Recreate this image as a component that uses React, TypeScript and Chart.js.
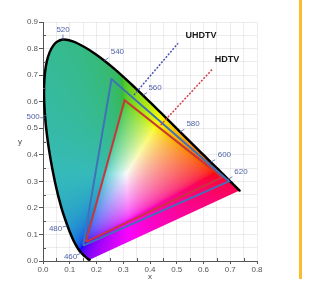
import React, { useEffect, useRef } from 'react';
import { Chart, registerables } from 'chart.js';
Chart.register(...registerables);

// CIE 1931 spectral locus (wavelength nm, x, y)
const wavelengths = [380, 400, 410, 420, 425, 430, 435, 440, 445, 450, 455, 460, 465, 470, 475, 480, 485, 490, 495, 500, 505, 510, 515, 520, 525, 530, 535, 540, 545, 550, 555, 560, 565, 570, 575, 580, 585, 590, 595, 600, 605, 610, 615, 620, 625, 630, 635, 640, 650, 660, 680, 700];
const locusX = [0.1741, 0.1733, 0.1726, 0.1714, 0.1703, 0.1689, 0.1669, 0.1644, 0.1611, 0.1566, 0.1510, 0.1440, 0.1355, 0.1241, 0.1096, 0.0913, 0.0687, 0.0454, 0.0235, 0.0082, 0.0039, 0.0139, 0.0389, 0.0743, 0.1142, 0.1547, 0.1929, 0.2296, 0.2658, 0.3016, 0.3373, 0.3731, 0.4087, 0.4441, 0.4788, 0.5125, 0.5448, 0.5752, 0.6029, 0.6270, 0.6482, 0.6658, 0.6801, 0.6915, 0.7006, 0.7079, 0.7140, 0.7190, 0.7260, 0.7300, 0.7334, 0.7347];
const locusY = [0.0050, 0.0048, 0.0048, 0.0051, 0.0058, 0.0069, 0.0086, 0.0109, 0.0138, 0.0177, 0.0227, 0.0297, 0.0399, 0.0578, 0.0868, 0.1327, 0.2007, 0.2950, 0.4127, 0.5384, 0.6548, 0.7502, 0.8120, 0.8338, 0.8262, 0.8059, 0.7816, 0.7543, 0.7243, 0.6923, 0.6589, 0.6245, 0.5896, 0.5547, 0.5202, 0.4866, 0.4544, 0.4242, 0.3965, 0.3725, 0.3514, 0.3340, 0.3197, 0.3083, 0.2993, 0.2920, 0.2859, 0.2809, 0.2740, 0.2700, 0.2666, 0.2653];

// Gamut triangles (closed)
const uhdtvX = [0.150, 0.256, 0.695, 0.150];
const uhdtvY = [0.058, 0.685, 0.300, 0.058];
const hdtvX = [0.160, 0.305, 0.670, 0.160];
const hdtvY = [0.072, 0.605, 0.315, 0.072];

// Leader lines to labels
const uhdtvLeaderX = [0.340, 0.505];
const uhdtvLeaderY = [0.625, 0.820];
const hdtvLeaderX = [0.440, 0.633];
const hdtvLeaderY = [0.512, 0.722];

// Wavelength labels
const labelWl = [460, 480, 500, 520, 540, 560, 580, 600, 620];
const labelX = [0.103, 0.047, -0.037, 0.075, 0.278, 0.419, 0.561, 0.678, 0.740];
const labelY = [0.014, 0.122, 0.542, 0.871, 0.788, 0.652, 0.516, 0.399, 0.335];

// Gamut names
const gamutNames = ['UHDTV', 'HDTV'];
const gamutNameX = [0.591, 0.688];
const gamutNameY = [0.848, 0.757];

const FONT = "'Liberation Sans', Arial, sans-serif";

const isMajor = (v: number) => Math.abs(Math.round(v * 10) - v * 10) < 1e-6;

function xyToRgb(xv: number, yv: number): [number, number, number] {
  const yy = Math.max(yv, 0.002);
  const X = xv / yy;
  const Z = (1 - xv - yy) / yy;
  let r = 3.2406 * X - 1.5372 - 0.4986 * Z;
  let g = -0.9689 * X + 1.8758 + 0.0415 * Z;
  let b = 0.0557 * X - 0.204 + 1.057 * Z;
  const m = Math.min(r, g, b);
  if (m < 0) { r -= m; g -= m; b -= m; }
  const mx = Math.max(r, g, b) || 1;
  r /= mx; g /= mx; b /= mx;
  const gam = (c: number) => (c <= 0.0031308 ? 12.92 * c : 1.055 * Math.pow(c, 1 / 2.4) - 0.055);
  let R = gam(r), G = gam(g), B = gam(b);
  // mute greens / cyans like a printed diagram
  const w = Math.max(0, Math.min(1, G - R));
  const k = 0.4 * w;
  R = R * (1 - k) + 0.55 * k;
  G = G * (1 - k) + 0.55 * k;
  B = B * (1 - k) + 0.55 * k;
  const dim = 1 - 0.1 * w;
  const base = 0.96;
  const f = (c: number) => Math.round(255 * Math.min(1, c * dim * base + 0.02));
  return [f(R), f(G), f(B)];
}

const gamutPlugin = {
  id: 'gamutFill',
  beforeDatasetsDraw(chart: any) {
    const { ctx, chartArea, scales } = chart;
    const sx = scales.x, sy = scales.y;
    const left = Math.floor(chartArea.left), top = Math.floor(chartArea.top);
    const w = Math.ceil(chartArea.right) - left;
    const h = Math.ceil(chartArea.bottom) - top;
    const off = document.createElement('canvas');
    off.width = w; off.height = h;
    const octx = off.getContext('2d')!;
    const img = octx.createImageData(w, h);
    for (let j = 0; j < h; j++) {
      const yv = sy.getValueForPixel(top + j + 0.5);
      for (let i = 0; i < w; i++) {
        const xv = sx.getValueForPixel(left + i + 0.5);
        const [r, g, b] = xyToRgb(xv, yv);
        const k = (j * w + i) * 4;
        img.data[k] = r; img.data[k + 1] = g; img.data[k + 2] = b; img.data[k + 3] = 255;
      }
    }
    octx.putImageData(img, 0, 0);
    ctx.save();
    ctx.beginPath();
    locusX.forEach((xv, i) => {
      const px = sx.getPixelForValue(xv), py = sy.getPixelForValue(locusY[i]);
      if (i === 0) ctx.moveTo(px, py); else ctx.lineTo(px, py);
    });
    ctx.closePath();
    ctx.clip();
    ctx.drawImage(off, left, top);
    ctx.restore();
  },
  afterDatasetsDraw(chart: any) {
    const { ctx, scales, chartArea } = chart;
    const sx = scales.x, sy = scales.y;
    ctx.save();
    // wavelength ticks and labels
    ctx.font = `8px ${FONT}`;
    ctx.fillStyle = '#5263a8';
    ctx.strokeStyle = '#5263a8';
    ctx.lineWidth = 0.8;
    ctx.textAlign = 'center';
    ctx.textBaseline = 'middle';
    labelWl.forEach((wl, i) => {
      const idx = wavelengths.indexOf(wl);
      const lx = sx.getPixelForValue(labelX[i]), ly = sy.getPixelForValue(labelY[i]);
      if (idx >= 0) {
        const px = sx.getPixelForValue(locusX[idx]), py = sy.getPixelForValue(locusY[idx]);
        const dx = lx - px, dy = ly - py;
        const d = Math.hypot(dx, dy) || 1;
        ctx.beginPath();
        ctx.moveTo(px, py);
        ctx.lineTo(px + (dx / d) * 5, py + (dy / d) * 5);
        ctx.stroke();
      }
      ctx.fillText(String(wl), lx, ly);
    });
    // gamut names
    ctx.font = `bold 9px ${FONT}`;
    ctx.fillStyle = '#1a1a1a';
    gamutNames.forEach((n, i) => {
      ctx.fillText(n, sx.getPixelForValue(gamutNameX[i]), sy.getPixelForValue(gamutNameY[i]));
    });
    // minor ticks (inward)
    ctx.strokeStyle = '#555';
    ctx.lineWidth = 1;
    for (let v = 0.05; v < 0.9; v += 0.1) {
      const py = Math.round(sy.getPixelForValue(v)) + 0.5;
      ctx.beginPath();
      ctx.moveTo(chartArea.left, py);
      ctx.lineTo(chartArea.left + 3, py);
      ctx.stroke();
    }
    for (let v = 0.05; v < 0.8; v += 0.1) {
      const px = Math.round(sx.getPixelForValue(v)) + 0.5;
      ctx.beginPath();
      ctx.moveTo(px, chartArea.bottom);
      ctx.lineTo(px, chartArea.bottom - 3);
      ctx.stroke();
    }
    // axis titles
    ctx.font = `8px ${FONT}`;
    ctx.fillStyle = '#444';
    ctx.fillText('y', 20, (chartArea.top + chartArea.bottom) / 2);
    ctx.fillText('x', (chartArea.left + chartArea.right) / 2, 277);
    ctx.restore();
  },
};

const toPts = (xs: number[], ys: number[]) => xs.map((x, i) => ({ x, y: ys[i] }));

export default function App() {
  const ref = useRef<HTMLCanvasElement>(null);
  useEffect(() => {
    if (!ref.current) return;
    const tickFont = { family: FONT, size: 8 };
    const chart = new Chart(ref.current, {
      type: 'line',
      data: {
        datasets: [
          { data: toPts(uhdtvLeaderX, uhdtvLeaderY), borderColor: '#4a55b0', borderWidth: 1.5, borderDash: [2, 1.5], pointRadius: 0, fill: false, tension: 0 },
          { data: toPts(hdtvLeaderX, hdtvLeaderY), borderColor: '#d0404e', borderWidth: 1.5, borderDash: [2, 1.5], pointRadius: 0, fill: false, tension: 0 },
          { data: toPts(uhdtvX, uhdtvY), borderColor: '#3f72b8', borderWidth: 2, pointRadius: 0, fill: false, tension: 0 },
          { data: toPts(hdtvX, hdtvY), borderColor: '#c8363c', borderWidth: 2, pointRadius: 0, fill: false, tension: 0 },
          { data: toPts(locusX, locusY), borderColor: '#000', borderWidth: 2.5, pointRadius: 0, fill: false, tension: 0.3, borderJoinStyle: 'round', borderCapStyle: 'round' },
        ] as any,
      },
      options: {
        responsive: false,
        animation: false,
        layout: { padding: { left: 0, top: 22, right: 53, bottom: 0 } },
        plugins: { legend: { display: false }, tooltip: { enabled: false } },
        scales: {
          x: {
            type: 'linear', min: 0, max: 0.8,
            afterFit: (s: any) => { s.height = 20; },
            ticks: { stepSize: 0.05, autoSkip: false, maxRotation: 0, font: tickFont, color: '#555', padding: 1,
              callback: (v: any) => (isMajor(Number(v)) ? Number(v).toFixed(1) : '') },
            grid: { color: 'rgba(0,0,0,0.07)', tickLength: 3,
              tickColor: (c: any) => (c.tick && isMajor(c.tick.value) ? '#555' : 'rgba(0,0,0,0)') },
            border: { color: '#555', width: 1 },
          },
          y: {
            type: 'linear', min: 0, max: 0.9,
            afterFit: (s: any) => { s.width = 43; },
            ticks: { stepSize: 0.05, autoSkip: false, font: tickFont, color: '#555', padding: 1,
              callback: (v: any) => (isMajor(Number(v)) ? Number(v).toFixed(1) : '') },
            grid: { color: 'rgba(0,0,0,0.07)', tickLength: 4,
              tickColor: (c: any) => (c.tick && isMajor(c.tick.value) ? '#555' : 'rgba(0,0,0,0)') },
            border: { color: '#555', width: 1 },
          },
        },
      } as any,
      plugins: [gamutPlugin as any],
    });
    return () => chart.destroy();
  }, []);
  return (
    <div style={{ position: 'absolute', left: 0, top: 0, width: 310, height: 281, background: '#fff' }}>
      <canvas ref={ref} width={310} height={281} style={{ display: 'block' }} />
      <div style={{ position: 'absolute', left: 299, top: 0, width: 3, height: 279, background: '#fbbd2e' }} />
    </div>
  );
}
